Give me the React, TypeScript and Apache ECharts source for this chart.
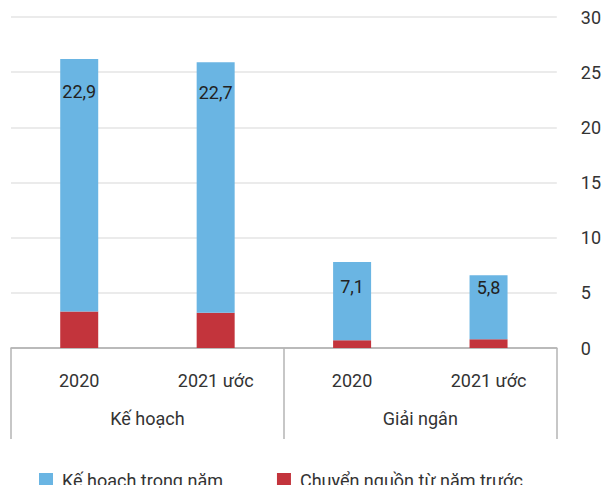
import React, { useEffect, useRef } from "react";
import * as echarts from "echarts";

const years = ["2020", "2021 ước", "2020", "2021 ước"];
const groups = ["Kế hoạch", "Giải ngân"];
const planInYear = [22.9, 22.7, 7.1, 5.8];
const carriedOver = [3.3, 3.2, 0.7, 0.8];
const yTicks = { min: 0, max: 30, interval: 5 };
const seriesNames = ["Kế hoạch trong năm", "Chuyển nguồn từ năm trước"];
const labelDistances = [24, 21, 16, 3];

const FONT = "Roboto, 'Noto Sans', sans-serif";
const FS = 18;

export default function App() {
  const ref = useRef<HTMLDivElement>(null);
  useEffect(() => {
    if (!ref.current) return;
    const chart = echarts.init(ref.current, undefined, { renderer: "svg" });
    chart.setOption({
      animation: false,
      textStyle: { fontFamily: FONT },
      grid: { left: 11, right: 44, top: 17, bottom: 137, containLabel: false },
      legend: {
        data: seriesNames,
        left: 34,
        top: 466,
        itemWidth: 14,
        itemHeight: 14,
        itemGap: 54,
        icon: "rect",
        textStyle: { fontSize: FS, color: "#333", fontFamily: FONT, padding: [0, 0, 0, 4] },
      },
      xAxis: [
        {
          type: "category",
          data: years,
          position: "bottom",
          axisLine: { show: true, lineStyle: { color: "#aaa", width: 1.5 } },
          axisTick: { show: false },
          axisLabel: { fontSize: FS, color: "#333", margin: 23, interval: 0, fontFamily: FONT },
        },
        {
          type: "category",
          data: groups,
          position: "bottom",
          axisLine: { show: false },
          axisTick: { show: true, length: 91, interval: 0, lineStyle: { color: "#b5b5b5", width: 1.5 } },
          axisLabel: { fontSize: FS, color: "#333", margin: 61, interval: 0, fontFamily: FONT },
        },
      ],
      yAxis: {
        type: "value",
        position: "right",
        min: yTicks.min,
        max: yTicks.max,
        interval: yTicks.interval,
        axisLine: { show: false },
        axisTick: { show: false },
        axisLabel: { fontSize: FS, color: "#333", margin: 24, fontFamily: FONT },
        splitLine: { lineStyle: { color: "#ebebeb", width: 2 } },
      },
      series: [
        {
          name: seriesNames[1],
          type: "bar",
          stack: "total",
          xAxisIndex: 0,
          barWidth: 38,
          itemStyle: { color: "#c3343c" },
          data: carriedOver,
        },
        {
          name: seriesNames[0],
          type: "bar",
          stack: "total",
          xAxisIndex: 0,
          barWidth: 38,
          itemStyle: { color: "#6ab5e3" },
          data: planInYear.map((v, i) => ({
            value: v,
            label: { distance: labelDistances[i] },
          })),
          label: {
            show: true,
            position: "insideTop",
            fontSize: FS,
            color: "#222",
            fontFamily: FONT,
            formatter: (p: any) => String(p.value).replace(".", ","),
          },
        },
      ],
    });
    return () => chart.dispose();
  }, []);
  return <div ref={ref} style={{ width: 604, height: 485, position: "absolute", left: 0, top: 0 }} />;
}
